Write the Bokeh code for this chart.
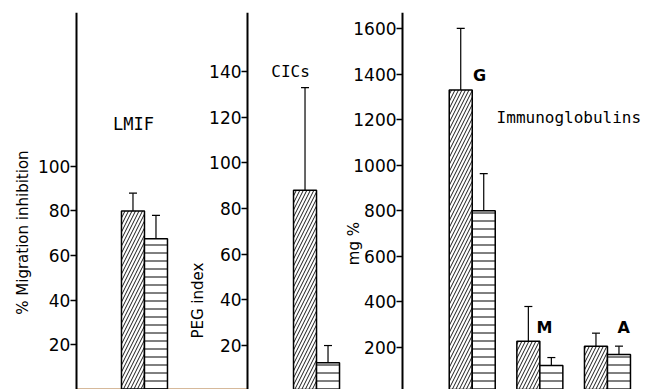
import numpy as np
from bokeh.plotting import figure
from bokeh.models import Range1d, FixedTicker, Whisker, ColumnDataSource, TeeHead, LinearAxis
from bokeh.core.properties import value
from bokeh.embed import file_html
from bokeh.resources import INLINE

# ---------------- data ----------------
lmif_cats = ["LMIF"]
lmif_s1 = [80]
lmif_s1_hi = [88]
lmif_s1_lo = [69]
lmif_s2 = [67.5]
lmif_s2_hi = [78]
lmif_s2_lo = [56]

cic_cats = ["CICs"]
cic_s1 = [88]
cic_s1_hi = [133]
cic_s1_lo = [45]
cic_s2 = [12.5]
cic_s2_hi = [20]
cic_s2_lo = [5]

ig_cats = ["G", "M", "A"]
ig_s1 = [1330, 228, 206]
ig_s1_hi = [1600, 380, 263]
ig_s1_lo = [1100, 86, 153]
ig_s2 = [800, 121, 169]
ig_s2_hi = [963, 156, 206]
ig_s2_lo = [608, 60, 139]

lmif_ticks = [20, 40, 60, 80, 100]
cic_ticks = [20, 40, 60, 80, 100, 120, 140]
ig_ticks = [200, 400, 600, 800, 1000, 1200, 1400, 1600]

# ---------------- layout (x in bar-width units) ----------------
W, H = 647, 389
X_END = W / 23.0
LMIF_X0, CIC_X0, IG_X0, IG_STEP = 6.26, 13.74, 20.51, 2.94
AX1, AX2, AX3 = 3.30, 10.74, 17.48

TICK_FONT = "DejaVu Sans"
MONO = "DejaVu Sans Mono"

p = figure(width=W, height=H, output_backend="svg", toolbar_location=None,
           x_range=Range1d(0, X_END), y_range=Range1d(-0.22, 169.2),
           x_axis_location=None, y_axis_location=None,
           min_border_left=0, min_border_right=0, min_border_top=12, min_border_bottom=0)
p.extra_y_ranges = {"cic": Range1d(0.74, 165.9), "ig": Range1d(15.8, 1670)}
p.outline_line_color = None
p.grid.visible = False
p.background_fill_color = "white"
p.border_fill_color = "white"


def add_axis(loc, ticks, rname):
    kw = {} if rname is None else {"y_range_name": rname}
    ax = LinearAxis(fixed_location=loc, ticker=FixedTicker(ticks=ticks), **kw)
    ax.minor_tick_line_color = None
    ax.axis_line_width = 2
    ax.axis_line_color = "black"
    ax.major_tick_line_width = 1.5
    ax.major_tick_out = 6
    ax.major_tick_in = 0
    ax.major_label_standoff = 0
    ax.major_label_text_font = TICK_FONT
    ax.major_label_text_font_size = "17px"
    ax.major_label_text_color = "black"
    p.add_layout(ax, "left")


def add_panel(n, x0, step, s1, s1hi, s1lo, s2, s2hi, s2lo, rname):
    kw = {} if rname is None else {"y_range_name": rname}
    idx = x0 + np.arange(n) * step
    x1 = idx - 0.5
    x2 = idx + 0.5
    common = dict(width=1, bottom=0, fill_color="white", line_color="black",
                  line_width=1.5, hatch_color="black", **kw)
    p.vbar(x=x1, top=s1, hatch_pattern="/", hatch_scale=7, hatch_weight=0.9, **common)
    p.vbar(x=x2, top=s2, hatch_pattern="-", hatch_scale=8, hatch_weight=1, **common)
    src = ColumnDataSource(dict(x=list(x1) + list(x2),
                                up=list(s1hi) + list(s2hi),
                                lo=list(s1lo) + list(s2lo)))
    p.add_layout(Whisker(source=src, base="x", upper="up", lower="lo",
                         line_color="black", line_width=1.2,
                         upper_head=TeeHead(size=8, line_color="black", line_width=1.2),
                         lower_head=TeeHead(size=8, line_color="black", line_width=1.2),
                         **kw))


add_axis(AX1, lmif_ticks, None)
add_axis(AX2, cic_ticks, "cic")
add_axis(AX3, ig_ticks, "ig")

# faint baseline of the first panel
p.segment(x0=[AX1], y0=[0], x1=[AX2], y1=[0], line_color="#c9a27a", line_width=1.5)

add_panel(len(lmif_cats), LMIF_X0, 3, lmif_s1, lmif_s1_hi, lmif_s1_lo,
          lmif_s2, lmif_s2_hi, lmif_s2_lo, None)
add_panel(len(cic_cats), CIC_X0, 3, cic_s1, cic_s1_hi, cic_s1_lo,
          cic_s2, cic_s2_hi, cic_s2_lo, "cic")
add_panel(len(ig_cats), IG_X0, IG_STEP, ig_s1, ig_s1_hi, ig_s1_lo,
          ig_s2, ig_s2_hi, ig_s2_lo, "ig")


def txt(x, y, t, rname=None, font=TICK_FONT, size="15px", angle=0.0, align="center",
        style="normal"):
    kw = {} if rname is None else {"y_range_name": rname}
    p.text(x=[x], y=[y], text=[t], angle=angle, text_align=align, text_baseline="middle",
           text_font=value(font), text_font_size=size, text_font_style=style,
           text_color="black", **kw)


# axis titles
txt(0.957, 70.3, "% Migration inhibition", angle=np.pi / 2)
txt(8.57, 39.7, "PEG index", rname="cic", angle=np.pi / 2)
txt(15.35, 656, "mg %", rname="ig", angle=np.pi / 2)

# panel titles and group labels
txt(5.78, 118.9, "LMIF", font=MONO, size="17px")
txt(12.61, 142.8, "CICs", font=MONO, size="16px")
txt(21.57, 1209, "Immunoglobulins", rname="ig", font=MONO, size="16px", align="left")
txt(20.83, 1394, ig_cats[0], rname="ig", size="16px", style="bold")
txt(23.65, 288, ig_cats[1], rname="ig", size="16px", style="bold")
txt(27.09, 288, ig_cats[2], rname="ig", size="16px", style="bold")

open("out.html", "w").write(file_html(p, INLINE))
